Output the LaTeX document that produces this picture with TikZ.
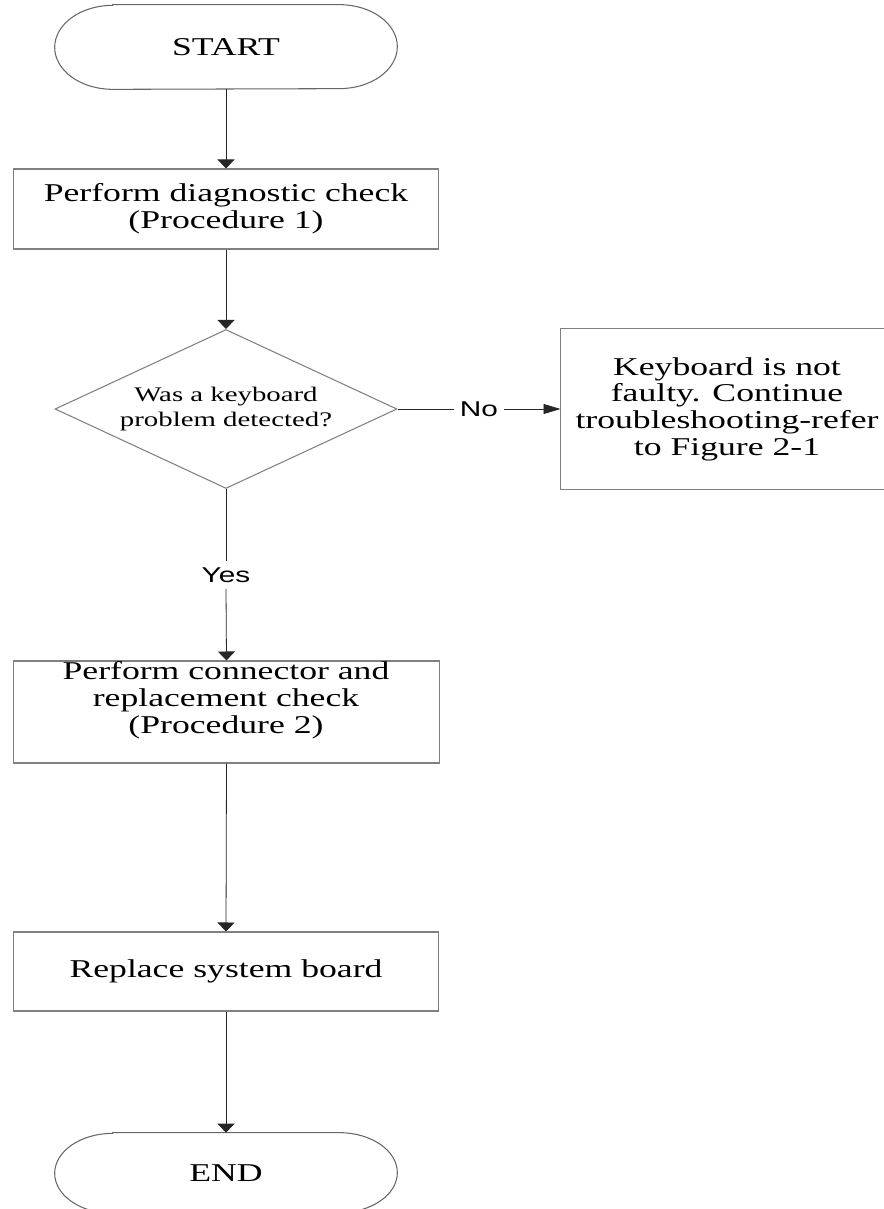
\documentclass[tikz,border=0pt]{standalone}
\usepackage{fontspec}
\setmainfont{Liberation Serif}
\newfontfamily\boxfont[FakeStretch=1.39]{Liberation Serif}
\newfontfamily\labelfont[FakeStretch=1.39]{Liberation Sans}
\usetikzlibrary{shapes.geometric,arrows.meta,calc}

\begin{document}
\begin{tikzpicture}[x=0.02cm,y=0.02cm,
  outline/.style={draw=black!50, line width=0.6pt},
  termline/.style={draw=black!60, line width=0.6pt},
  bigtext/.style={align=center, font=\boxfont\fontsize{14.6}{15.2}\selectfont},
  stepbox/.style={outline, rectangle, inner sep=0pt, bigtext},
  term/.style={rectangle, inner sep=0pt, minimum width=6.84cm, bigtext},
  decision/.style={diamond, outline, inner sep=0pt, aspect=2.15,
    minimum width=6.84cm, minimum height=3.18cm, align=center,
    font=\boxfont\fontsize{11.8}{14.2}\selectfont},
  flow/.style={draw=black!85, line width=0.45pt},
  vtip/.style={flow, -{Triangle[length=0.18cm,width=0.34cm]}},
  htip/.style={flow, -{Triangle[length=0.34cm,width=0.2cm]}},
  answer/.style={font=\labelfont\fontsize{12.2}{13}\selectfont, inner sep=0.12cm}
]
\useasboundingbox (0,0) rectangle (883,-1209);

% terminals and process steps
\node[term, minimum height=1.68cm] (start) at (226,-47) {START};
\draw[termline] ($(start.north west)+(58,0)$) -- ($(start.north east)+(-58,0)$)
  arc[start angle=90, end angle=-90, x radius=58, y radius=42]
  -- ($(start.south west)+(58,0)$)
  arc[start angle=270, end angle=90, x radius=58, y radius=42] -- cycle;

\node[stepbox, minimum width=8.52cm, minimum height=1.6cm] (check1) at (226,-209)
  {Perform diagnostic check\\(Procedure 1)};

\node[decision] (kbd) at (226,-409) {Was a keyboard\\problem detected?};

% the right-hand box runs off the page, so its right side is not drawn
\node[stepbox, draw=none, minimum width=6.64cm, minimum height=3.2cm] (notfaulty) at (727,-409)
  {Keyboard is not\\faulty. Continue\\troubleshooting-refer\\to Figure 2-1};
\draw[outline] (notfaulty.north east) -| (notfaulty.south west) -- (notfaulty.south east);

\node[stepbox, minimum width=8.54cm, minimum height=2.04cm] (check2) at (226.5,-712) {};
\node[bigtext, inner sep=0pt] (check2txt) at (226,-700)
  {Perform connector and\\replacement check\\(Procedure 2)};

\node[stepbox, minimum width=8.52cm, minimum height=1.58cm] (board) at (226,-971.5)
  {Replace system board};

\node[term, minimum height=1.6cm] (end) at (226,-1173) {END};
\draw[termline] ($(end.north west)+(58,0)$) -- ($(end.north east)+(-58,0)$)
  arc[start angle=90, end angle=-90, x radius=58, y radius=40]
  -- ($(end.south west)+(58,0)$)
  arc[start angle=270, end angle=90, x radius=58, y radius=40] -- cycle;

% branch labels
\node[answer] (yes) at (226,-575) {Yes};
\node[answer] (no) at (479,-409) {No};

% connectors
\draw[vtip] (start.south) -- (check1.north);
\draw[vtip] (check1.south) -- (kbd.north);
\draw[flow] (kbd.south) -- (yes.north);
\draw[vtip] (yes.south) -- (check2.north);
\draw[flow] (kbd.east) -- (no.west);
\draw[htip] (no.east) -- (notfaulty.west);
\draw[vtip] (check2.south) -- (board.north);
\draw[vtip] (board.south) -- (end.north);
\end{tikzpicture}
\end{document}
